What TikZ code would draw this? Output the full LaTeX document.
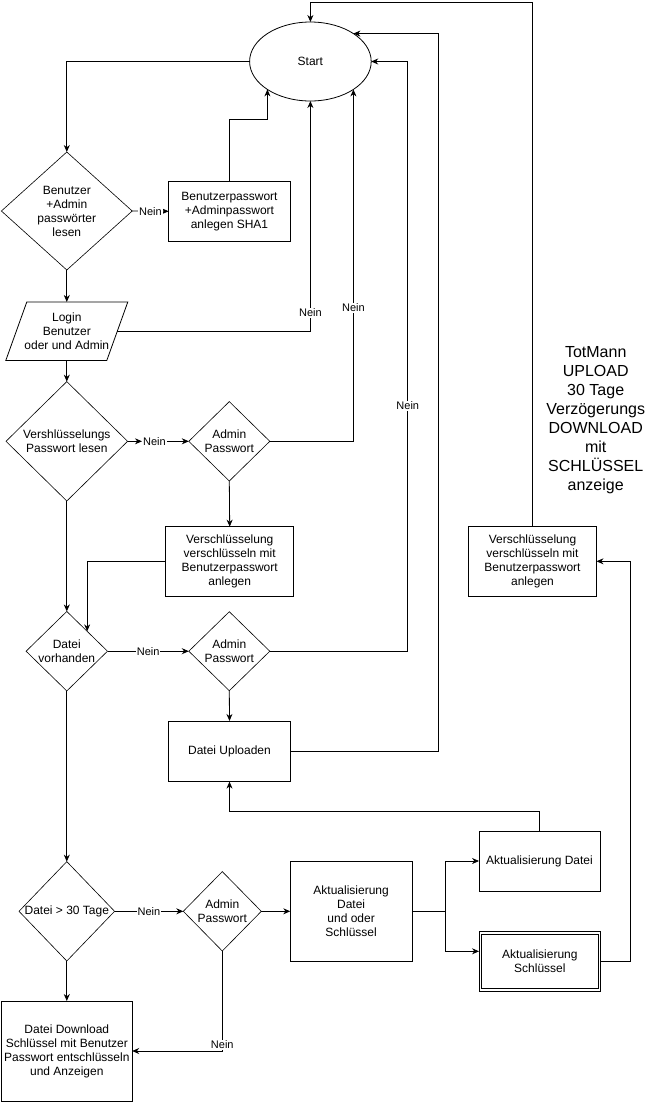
\documentclass[tikz,border=0pt]{standalone}
\usepackage{fontspec}
\setmainfont{Liberation Sans}
\usetikzlibrary{arrows.meta,shapes.geometric,calc}
\begin{document}
\begin{tikzpicture}[x=1pt,y=-1pt,
  base/.style={font=\fontsize{12}{14}\selectfont, align=center, inner sep=0pt, outer sep=0pt},
  box/.style={base, draw, line width=0.8pt, rectangle},
  dia/.style={base, draw, line width=0.6pt, diamond},
  ell/.style={base, draw, line width=0.8pt, ellipse},
  plain/.style={base},
  arr/.style={line width=0.8pt, -{Stealth[length=7pt,width=6pt]}},
  ln/.style={line width=0.8pt},
  lbl/.style={font=\fontsize{11}{13}\selectfont, fill=white, inner sep=1pt},
  big/.style={font=\fontsize{16}{19}\selectfont, align=center, inner sep=0pt}
]
\useasboundingbox (0,0) rectangle (649,1104);

% nodes
\node[ell, minimum width=121.6, minimum height=79] (start) at (310.4,61.5) {Start};
\node[dia, minimum width=130.8, minimum height=118] (d1) at (66.8,211) {Benutzer\\+Admin\\passwörter\\lesen};
\node[box, minimum width=121.7, minimum height=59.3] (sha1) at (229.5,211.3) {Benutzerpasswort\\+Adminpasswort\\anlegen SHA1};
\node[plain, minimum width=101, minimum height=58.5] (login) at (66.8,331.2) {Login\\Benutzer\\oder und Admin};
\draw[ln] ([xshift=10.5pt]login.north west) -- ([xshift=10.5pt]login.north east)
  -- ([xshift=-10.5pt]login.south east) -- ([xshift=-10.5pt]login.south west) -- cycle;
\node[dia, minimum width=121.6, minimum height=119.4] (d2) at (66.8,441.3) {Vershlüsselungs\\Passwort lesen};
\node[dia, minimum width=81, minimum height=79.4] (adm1) at (229.3,441.3) {Admin\\Passwort};
\node[lbl] (n2) at (154.5,441.3) {Nein};
\node[box, minimum width=128, minimum height=69.3] (v1) at (229.7,561.3) {Verschlüsselung\\verschlüsseln mit\\Benutzerpasswort\\anlegen};
\node[dia, minimum width=81.4, minimum height=79] (d3) at (66.8,651.2) {Datei\\vorhanden};
\node[dia, minimum width=81, minimum height=79] (adm2) at (229.3,651.2) {Admin\\Passwort};
\node[box, minimum width=121.7, minimum height=60.7] (upl) at (229.5,751.3) {Datei Uploaden};
\node[box, minimum width=120.9, minimum height=60] (aktd) at (539.5,861) {Aktualisierung Datei};
\node[box, minimum width=121.7, minimum height=59.3] (aktschl) at (539.9,961.3) {Aktualisierung\\Schlüssel};
\draw[line width=0.7pt] ([xshift=2.6pt,yshift=-2.6pt]aktschl.north west) rectangle ([xshift=-2.6pt,yshift=2.6pt]aktschl.south east);
\node[box, minimum width=121.7, minimum height=99.3] (aktdus) at (351.1,911.3) {Aktualisierung\\Datei\\und oder\\Schlüssel};
\node[dia, minimum width=95.2, minimum height=99.4] (d4) at (66.8,911.3) {Datei > 30 Tage};
\node[dia, minimum width=78, minimum height=79.4] (adm3) at (222.3,911.3) {Admin\\Passwort};
\node[box, minimum width=130.8, minimum height=100] (dl) at (66.8,1051) {Datei Download\\Schlüssel mit Benutzer\\Passwort entschlüsseln\\und Anzeigen};
\node[box, minimum width=128, minimum height=69.3] (v2) at (532.5,561.3) {Verschlüsselung\\verschlüsseln mit\\Benutzerpasswort\\anlegen};
\node[big] (tm) at (595.7,420) {TotMann\\UPLOAD\\30 Tage\\Verzögerungs\\DOWNLOAD\\mit\\SCHLÜSSEL\\anzeige};

\coordinate (top) at (310.4,2);
\coordinate (br) at (445.5,911.3);

% connectors
\draw[arr] (start.west) -| (d1.north);
\draw[arr] (d1.east) -- node[lbl]{Nein} (sha1.west);
\draw[arr] (sha1.north) -- (229.5,119) -| (start.south west);
\draw[arr] (d1.south) -- (login.north);
\draw[arr] (login.east) -| node[lbl,pos=0.54]{Nein} (start.south);
\draw[arr] (login.south) -- (d2.north);
\draw[arr] (d2.east) -- (n2.west);
\draw[arr] (n2.east) -- (adm1.west);
\draw[arr] (adm1.east) -| node[lbl,pos=0.69]{Nein} (start.south east);
\draw[arr] (adm1.south) -- (v1.north);
\draw[arr] (v1.west) -| ($(d3.north)!0.5!(d3.east)$);
\draw[arr] (d2.south) -- (d3.north);
\draw[arr] (d3.east) -- node[lbl]{Nein} (adm2.west);
\draw[arr] (adm2.east) -- (407.8,651.2) |- node[lbl,pos=0.208]{Nein} (start.east);
\draw[arr] (adm2.south) -- (upl.north);
\draw[arr] (upl.east) -- (438.4,751.3) |- (start.north east);
\draw[arr] (v2.north) |- (top) -- (start.north);
\draw[arr] (d3.south) -- (d4.north);
\draw[arr] (d4.east) -- node[lbl]{Nein} (adm3.west);
\draw[arr] (adm3.east) -- (aktdus.west);
\draw[ln] (aktdus.east) -- (br);
\draw[arr] (br) |- (aktd.west);
\draw[arr] (br) |- ([yshift=10pt]aktschl.west);
\draw[arr] (aktschl.east) -- (630.5,961.3) |- (v2.east);
\draw[arr] (aktd.north) -- (539.5,811) -| (upl.south);
\draw[arr] (d4.south) -- (dl.north);
\draw[arr] (adm3.south) |- node[lbl,pos=0.47]{Nein} (dl.east);
\end{tikzpicture}
\end{document}
